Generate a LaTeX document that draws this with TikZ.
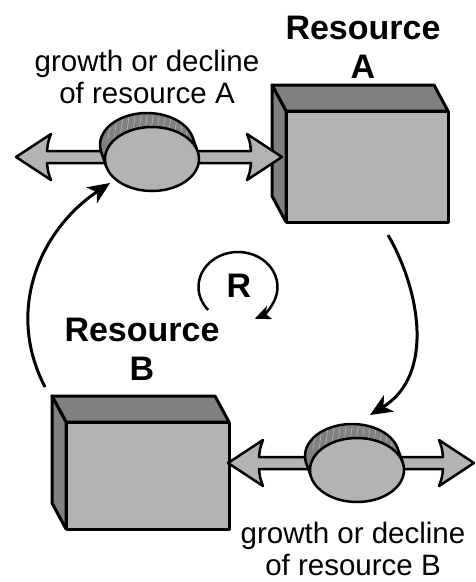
\documentclass[tikz,border=0pt]{standalone}
\usepackage{fontspec}
\setmainfont{Liberation Sans}
\usetikzlibrary{arrows.meta,calc}

\definecolor{facelight}{RGB}{179,179,179}
\definecolor{facedark}{RGB}{128,128,128}
\definecolor{bandline}{RGB}{200,200,200}

\tikzset{
  boxface/.style={draw=black, line width=3pt, line join=round},
  pipe/.style={draw=black, fill=facelight, line width=2.5pt, line join=round},
  valverim/.style={draw=black, line width=2.5pt, line join=round},
  link/.style={line width=3pt, -{Stealth[length=22pt,width=19pt,inset=6pt]}},
  looparrow/.style={line width=2.5pt, -{Stealth[length=16pt,width=14pt,inset=4pt]}},
  lbl/.style={font=\fontsize{29.5}{31.5}\selectfont, align=center, inner sep=0pt},
  stocklbl/.style={font=\fontsize{34}{39}\selectfont\bfseries, align=center, inner sep=0pt}
}

% stock drawn as a box: front face from (#1,#2) to (#3,#4), receding up-left
\newcommand\stockbox[4]{%
  \filldraw[boxface, fill=facedark] (#1,#2) -- (#1-14,#2-26) -- (#3-14,#2-26) -- (#3,#2) -- cycle;
  \filldraw[boxface, fill=facedark] (#1,#2) -- (#1-14,#2-26) -- (#1-14,#4-26) -- (#1,#4) -- cycle;
  \filldraw[boxface, fill=facelight] (#1,#2) rectangle (#3,#4);}

% double-headed flow pipe: left tip x, right tip x, axis y
\newcommand\flowpipe[3]{%
  \filldraw[pipe] (#1,#3) -- (#1+35,#3-23) .. controls (#1+32,#3-15) .. (#1+31,#3-6)
    -- (#2-31,#3-6) .. controls (#2-32,#3-15) .. (#2-35,#3-23) -- (#2,#3)
    -- (#2-35,#3+23) .. controls (#2-32,#3+15) .. (#2-31,#3+6)
    -- (#1+31,#3+6) .. controls (#1+32,#3+15) .. (#1+35,#3+23) -- cycle;}

% flow valve: a short cylinder seen from the front, centre of front face (#1,#2)
\newcommand\flowvalve[2]{%
  \fill[facedark] (#1,#2) ++(166.3:47 and 32) -- ++(-5,-14)
    arc[start angle=166.3, end angle=346.3, x radius=47, y radius=32] -- ++(5,14) -- cycle;
  \begin{scope}
    \clip (#1,#2) ++(166.3:47 and 32) -- ++(-5,-14)
      arc[start angle=166.3, end angle=346.3, x radius=47, y radius=32] -- ++(5,14) -- cycle;
    \foreach \k in {-40,-34,...,40}
      \draw[bandline, line width=0.4pt] (#1+\k,#2-50) -- ++(-4,30);
  \end{scope}
  \draw[valverim] (#1,#2) ++(166.3:47 and 32) -- ++(-5,-14)
    arc[start angle=166.3, end angle=346.3, x radius=47, y radius=32] -- ++(5,14);
  \filldraw[valverim, fill=facelight] (#1,#2) ellipse[x radius=47, y radius=32];}

\begin{document}
\begin{tikzpicture}[x=1pt, y=-1pt]
  \useasboundingbox (0,0) rectangle (476,582);

  % stocks
  \stockbox{286}{111}{448}{222}
  \stockbox{66}{422}{229}{529}
  \coordinate (stockA) at (367,166);
  \coordinate (stockB) at (147,475);

  % flows
  \flowpipe{16}{282}{157}
  \flowpipe{228}{474}{463}
  \flowvalve{152}{159}
  \flowvalve{357}{470}
  \coordinate (valveA) at (152,159);
  \coordinate (valveB) at (357,470);

  % connector end points
  \coordinate (fromB) at (45,387);
  \coordinate (intoA) at (110,183);
  \coordinate (fromA) at (388,235);
  \coordinate (intoB) at (370,415);

  % information links
  \draw[link] (fromB) .. controls (5,310) and (40,230) .. (intoA);
  \draw[link] (fromA) .. controls (420,290) and (435,375) .. (intoB);

  % reinforcing loop marker
  \coordinate (loopc) at (238,287);
  \draw[looparrow] (loopc) ++(139:39.5 and 35)
    arc[start angle=139, end angle=425, x radius=39.5, y radius=35];
  \node[stocklbl, anchor=base] (loopR) at (239,297) {R};

  % labels (base anchor sits on the last line)
  \node[lbl, anchor=base] (flowAlbl) at (147,103) {growth or decline\\of resource A};
  \node[lbl, anchor=base] (flowBlbl) at (353,575) {growth or decline\\of resource B};
  \node[stocklbl, anchor=base] (stockAlbl) at (363,78) {Resource\\A};
  \node[stocklbl, anchor=base] (stockBlbl) at (142,380) {Resource\\B};
\end{tikzpicture}
\end{document}
